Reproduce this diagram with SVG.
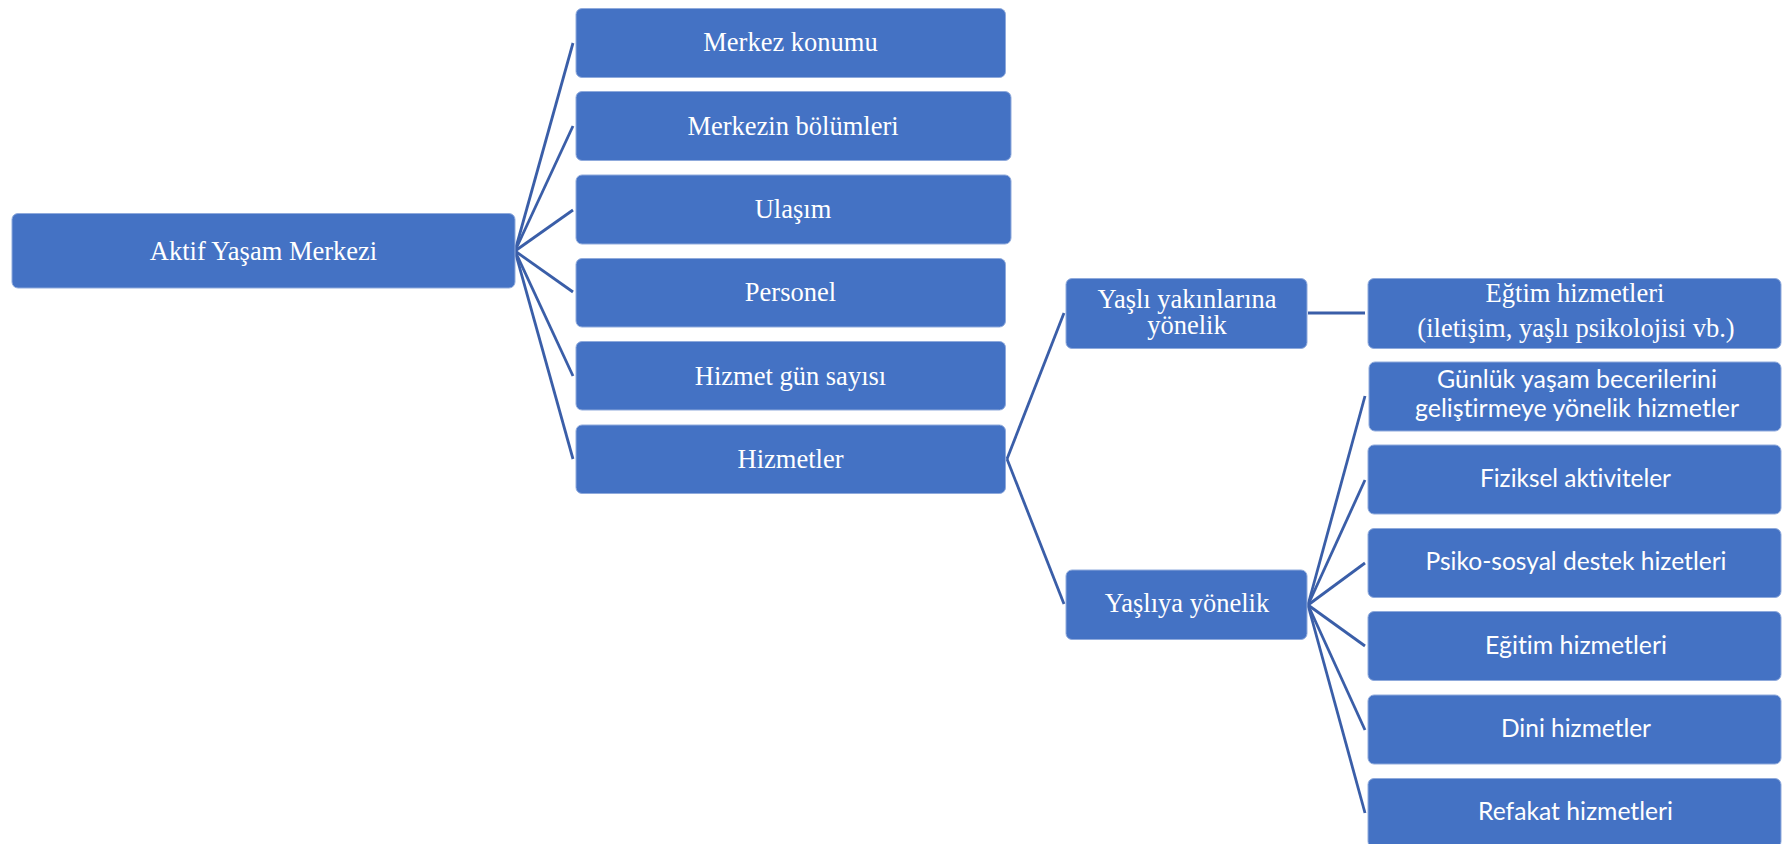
<svg xmlns="http://www.w3.org/2000/svg" width="1782" height="844" viewBox="0 0 1782 844">
<style>
.box{fill:#4472C4;stroke:#8FAADC;stroke-width:1;}
.t{fill:#FFFFFF;font-family:"Liberation Serif","Times New Roman",serif;font-size:26.5px;text-anchor:middle;}
.c{fill:#FFFFFF;font-family:Lato,"Noto Sans",sans-serif;font-size:25px;text-anchor:middle;font-variant-ligatures:none;font-feature-settings:"liga" 0,"dlig" 0;}
.ln{stroke:#3A5EA8;stroke-width:2.8;fill:none;}
</style>
<rect width="1782" height="844" fill="#FFFFFF"/>
<g id="connectors">
<line class="ln" x1="515" y1="251" x2="573" y2="43"/>
<line class="ln" x1="515" y1="251" x2="573" y2="126"/>
<line class="ln" x1="515" y1="251" x2="573" y2="210"/>
<line class="ln" x1="515" y1="251" x2="573" y2="292"/>
<line class="ln" x1="515" y1="251" x2="573" y2="376"/>
<line class="ln" x1="515" y1="251" x2="573" y2="459"/>
<line class="ln" x1="1007" y1="459" x2="1064" y2="313"/>
<line class="ln" x1="1007" y1="459" x2="1064" y2="604"/>
<line class="ln" x1="1308" y1="313" x2="1365" y2="313"/>
<line class="ln" x1="1308" y1="605" x2="1365" y2="396"/>
<line class="ln" x1="1308" y1="605" x2="1365" y2="480"/>
<line class="ln" x1="1308" y1="605" x2="1365" y2="563"/>
<line class="ln" x1="1308" y1="605" x2="1365" y2="646"/>
<line class="ln" x1="1308" y1="605" x2="1365" y2="730"/>
<line class="ln" x1="1308" y1="605" x2="1365" y2="813"/>
</g>
<g id="root">
<rect class="box" x="12" y="213.5" width="503" height="74.5" rx="6"/>
<text class="t" x="263.5" y="260">Aktif Yaşam Merkezi</text>
</g>
<g id="merkez-konumu">
<rect class="box" x="576" y="8.5" width="429.5" height="69" rx="6"/>
<text class="t" x="790.5" y="51">Merkez konumu</text>
</g>
<g id="merkezin-bolumleri">
<rect class="box" x="576" y="91.5" width="435" height="69" rx="6"/>
<text class="t" x="793" y="134.5">Merkezin bölümleri</text>
</g>
<g id="ulasim">
<rect class="box" x="576" y="175" width="435" height="69" rx="6"/>
<text class="t" x="793" y="218">Ulaşım</text>
</g>
<g id="personel">
<rect class="box" x="576" y="258.5" width="429.5" height="68.5" rx="6"/>
<text class="t" x="790.5" y="301">Personel</text>
</g>
<g id="hizmet-gun-sayisi">
<rect class="box" x="576" y="341.5" width="429.5" height="68.5" rx="6"/>
<text class="t" x="790.5" y="384.5">Hizmet gün sayısı</text>
</g>
<g id="hizmetler">
<rect class="box" x="576" y="425" width="429.5" height="68.5" rx="6"/>
<text class="t" x="790.5" y="468">Hizmetler</text>
</g>
<g id="yasli-yakinlarina">
<rect class="box" x="1066" y="278.5" width="241" height="70" rx="6"/>
<text class="t" x="1187" y="307.5">Yaşlı yakınlarına</text>
<text class="t" x="1187" y="334">yönelik</text>
</g>
<g id="yasliya-yonelik">
<rect class="box" x="1066" y="570" width="241" height="69.5" rx="6"/>
<text class="t" x="1187" y="612">Yaşlıya yönelik</text>
</g>
<g id="egitim-yakinlar">
<rect class="box" x="1368" y="278.5" width="413" height="70" rx="6"/>
<text class="t" x="1575" y="301.5">Eğtim hizmetleri</text>
<text class="t" x="1576" y="336.5">(iletişim, yaşlı psikolojisi vb.)</text>
</g>
<g id="gunluk-yasam">
<rect class="box" x="1369" y="362" width="412" height="69" rx="6"/>
<text class="c" x="1577" y="388" textLength="280" lengthAdjust="spacingAndGlyphs">Günlük yaşam becerilerini</text>
<text class="c" x="1577" y="416.5" textLength="324" lengthAdjust="spacingAndGlyphs">geliştirmeye yönelik hizmetler</text>
</g>
<g id="fiziksel">
<rect class="box" x="1368" y="445" width="413" height="69" rx="6"/>
<text class="c" x="1575.5" y="487" textLength="191" lengthAdjust="spacingAndGlyphs">Fiziksel aktiviteler</text>
</g>
<g id="psiko-sosyal">
<rect class="box" x="1368" y="528.5" width="413" height="69" rx="6"/>
<text class="c" x="1576" y="570" textLength="301" lengthAdjust="spacingAndGlyphs">Psiko-sosyal destek hizetleri</text>
</g>
<g id="egitim">
<rect class="box" x="1368" y="611.5" width="413" height="69" rx="6"/>
<text class="c" x="1576" y="653.5" textLength="182" lengthAdjust="spacingAndGlyphs">Eğitim hizmetleri</text>
</g>
<g id="dini">
<rect class="box" x="1368" y="695" width="413" height="69" rx="6"/>
<text class="c" x="1576" y="737" textLength="150" lengthAdjust="spacingAndGlyphs">Dini hizmetler</text>
</g>
<g id="refakat">
<rect class="box" x="1368" y="778.5" width="413" height="69" rx="6"/>
<text class="c" x="1575.5" y="819.5" textLength="195" lengthAdjust="spacingAndGlyphs">Refakat hizmetleri</text>
</g>
</svg>
